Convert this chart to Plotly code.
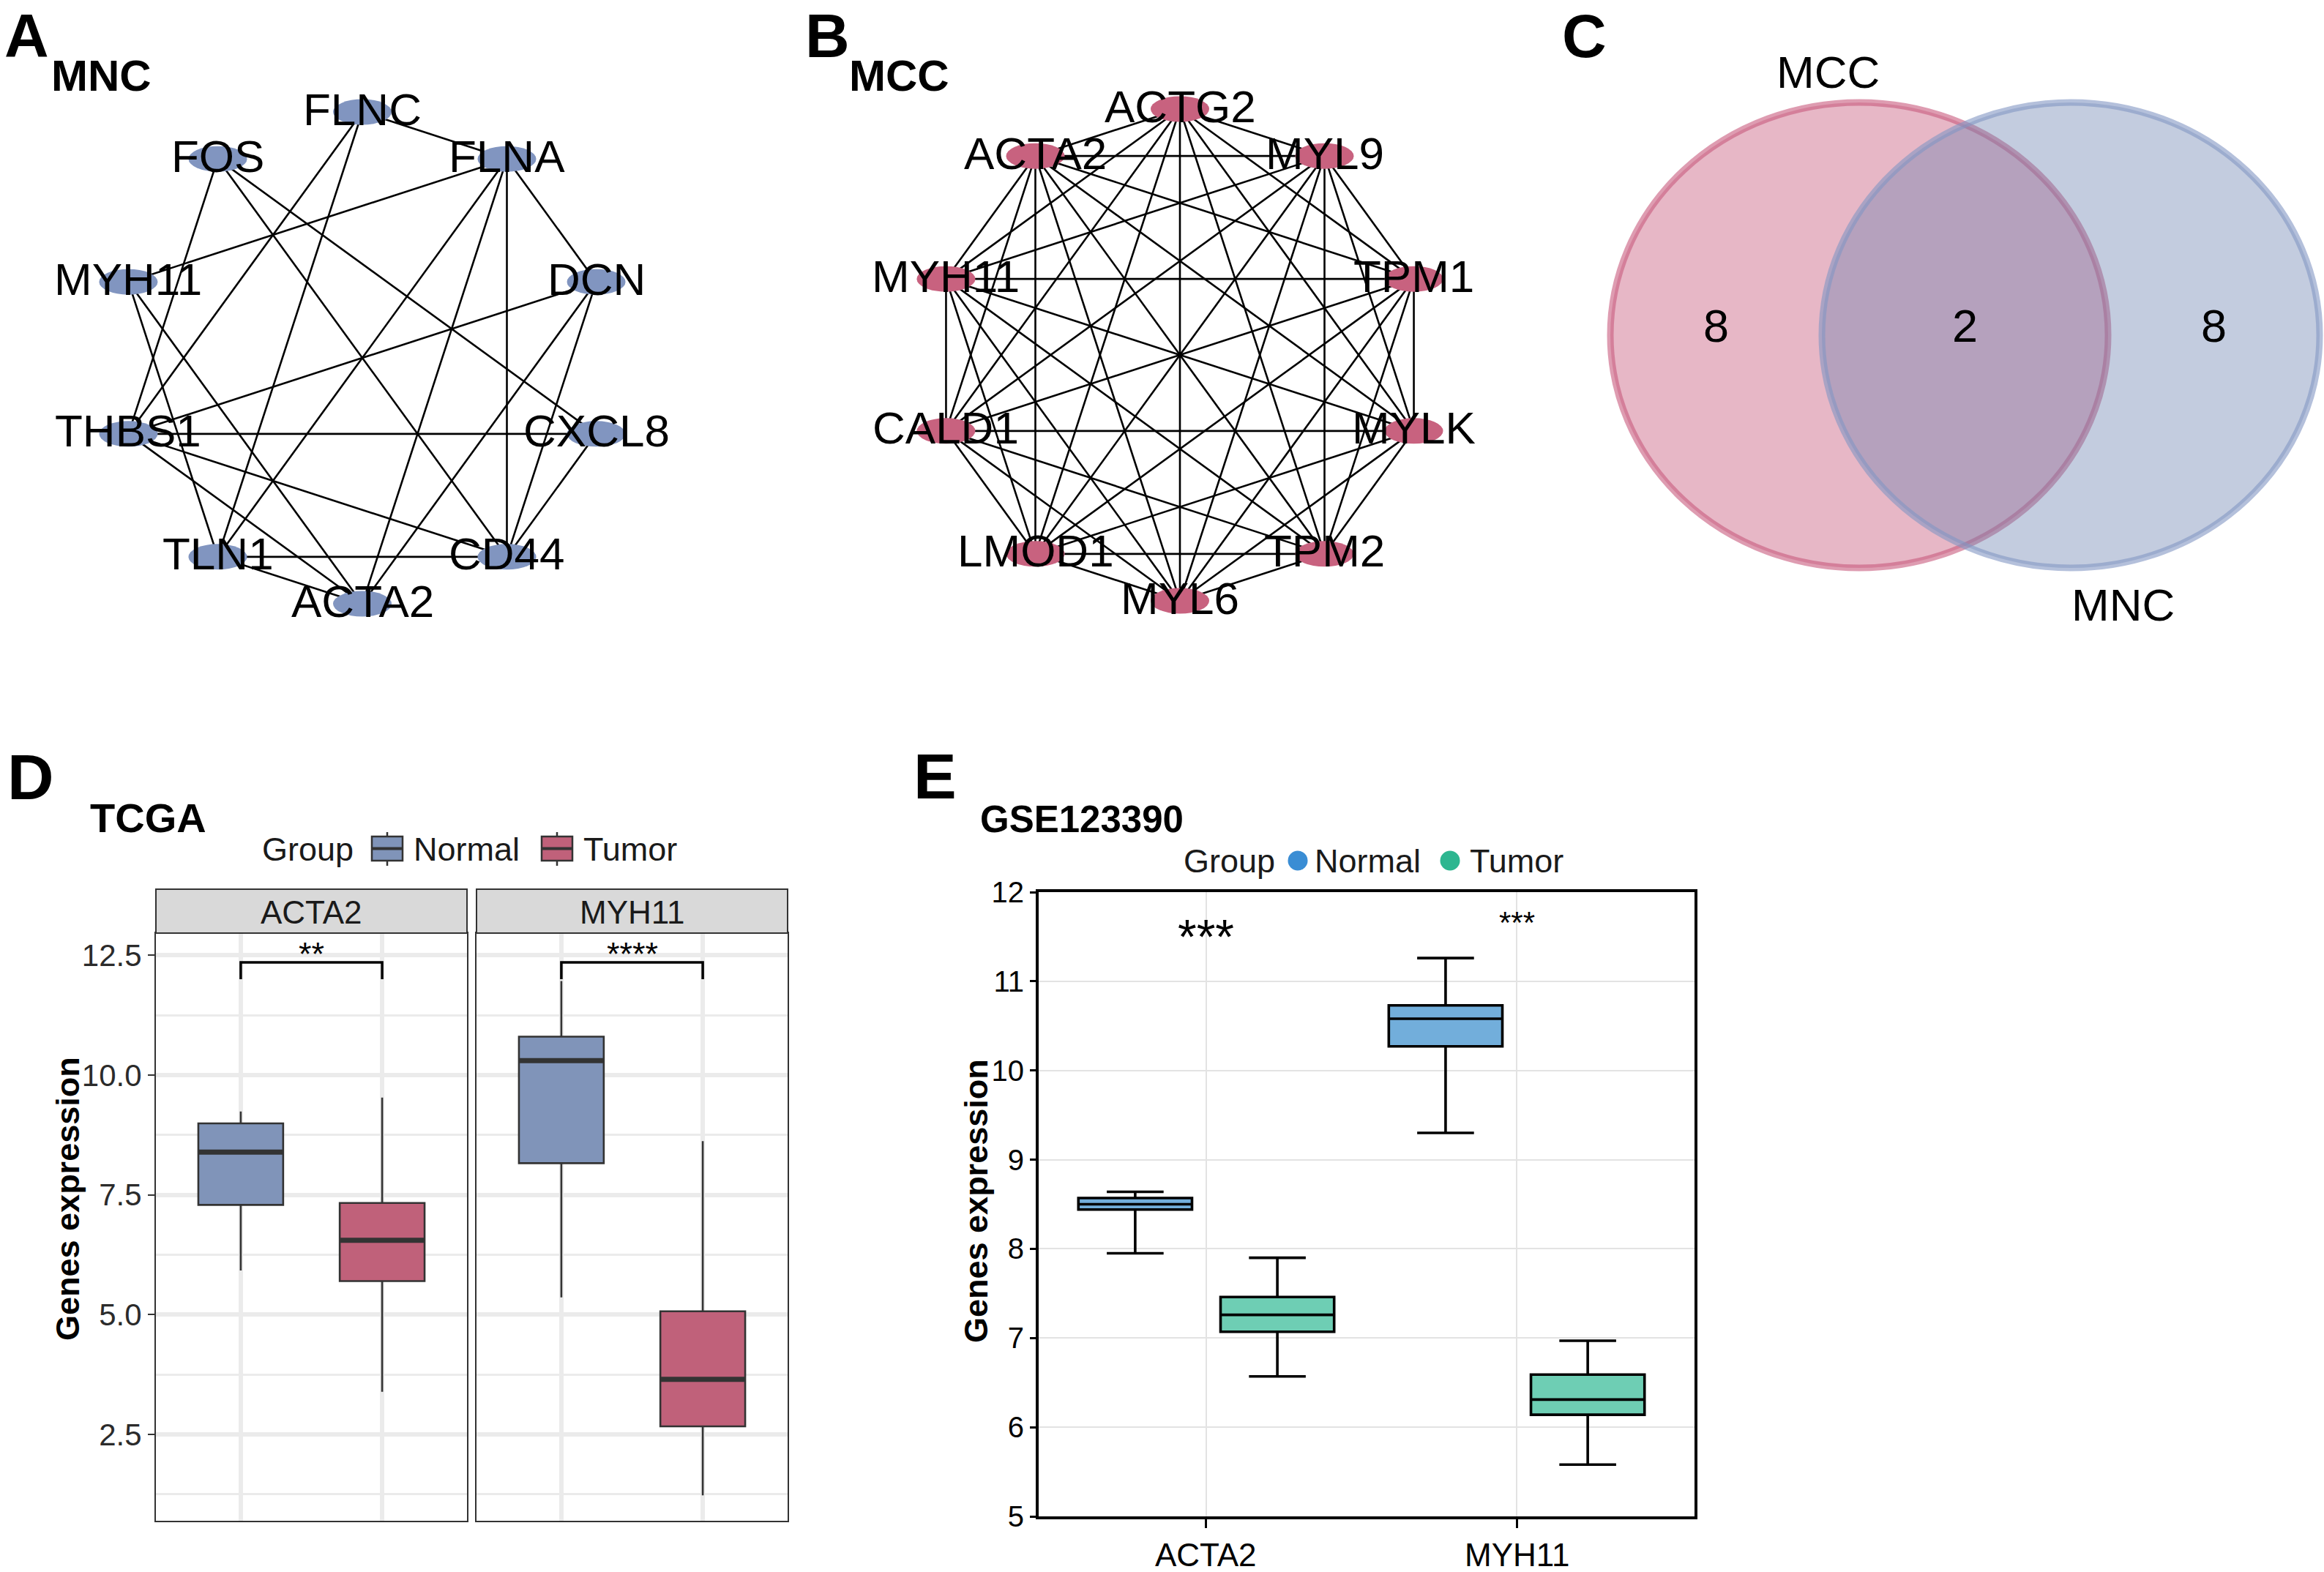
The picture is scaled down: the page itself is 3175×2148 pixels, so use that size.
import math
from itertools import combinations
import plotly.graph_objects as go

W, H = 3175, 2148
FONT = "Liberation Sans, Arial, Helvetica, sans-serif"

# ------------------------------------------------------------------ data
mnc_nodes = ["FLNC", "FLNA", "DCN", "CXCL8", "CD44", "ACTA2", "TLN1", "THBS1", "MYH11", "FOS"]
mnc_edges = [("FLNC", "FLNA"), ("FLNC", "THBS1"), ("FLNC", "TLN1"),
             ("FOS", "THBS1"), ("FOS", "CD44"), ("FOS", "CXCL8"),
             ("FLNA", "MYH11"), ("FLNA", "TLN1"), ("FLNA", "ACTA2"), ("FLNA", "CD44"), ("FLNA", "DCN"),
             ("DCN", "THBS1"), ("DCN", "CD44"), ("DCN", "ACTA2"),
             ("CXCL8", "THBS1"), ("CXCL8", "CD44"),
             ("MYH11", "TLN1"), ("MYH11", "ACTA2"),
             ("THBS1", "CD44"), ("THBS1", "ACTA2"),
             ("TLN1", "CD44"), ("TLN1", "ACTA2")]
mcc_nodes = ["ACTG2", "MYL9", "TPM1", "MYLK", "TPM2", "MYL6", "LMOD1", "CALD1", "MYH11", "ACTA2"]
mcc_edges = list(combinations(mcc_nodes, 2))   # MCC top-10 forms a clique

venn_sets = ["MCC", "MNC"]
venn_counts = [8, 2, 8]          # MCC only, shared, MNC only

genes = ["ACTA2", "MYH11"]
groups = ["Normal", "Tumor"]
# TCGA (panel D)
tcga_normal_low = [5.92, 5.36]
tcga_normal_q1 = [7.29, 8.16]
tcga_normal_med = [8.39, 10.30]
tcga_normal_q3 = [8.99, 10.80]
tcga_normal_high = [9.24, 11.96]
tcga_tumor_low = [3.39, 1.23]
tcga_tumor_q1 = [5.70, 2.67]
tcga_tumor_med = [6.55, 3.65]
tcga_tumor_q3 = [7.33, 5.07]
tcga_tumor_high = [9.53, 8.62]
tcga_signif = ["**", "****"]
tcga_bracket = [12.0, 12.35]
# GSE123390 (panel E)
gse_normal_low = [7.95, 9.30]
gse_normal_q1 = [8.44, 10.27]
gse_normal_med = [8.50, 10.58]
gse_normal_q3 = [8.57, 10.73]
gse_normal_high = [8.64, 11.26]
gse_tumor_low = [6.57, 5.58]
gse_tumor_q1 = [7.07, 6.14]
gse_tumor_med = [7.26, 6.31]
gse_tumor_q3 = [7.46, 6.59]
gse_tumor_high = [7.90, 6.97]
gse_signif = ["***", "***"]
gse_signif_y = [11.50, 11.66]
gse_signif_size = [66, 42]

# ------------------------------------------------------------------ helpers
def xd(l, r):
    return [l / W, r / W]


def yd(t, b):
    return [1 - b / H, 1 - t / H]


def px(x):
    return x / W


def py(y):
    return 1 - y / H


annotations = []
shapes = []


def text(t, x, y, size, bold=False, xanchor="left", yanchor="middle", color="black", angle=0):
    if bold:
        t = "<b>" + t + "</b>"
    annotations.append(dict(text=t, x=px(x), y=py(y), xref="paper", yref="paper",
                            xanchor=xanchor, yanchor=yanchor, showarrow=False, textangle=angle,
                            font=dict(family=FONT, size=size, color=color)))


fig = go.Figure()


# ------------------------------------------------------------------ networks (A, B)
def network(nodes, edges, ax, node_color, box, center, radius):
    xa, ya = "x" + ax, "y" + ax
    l, t, r, b = box
    cx, cy = center
    n = len(nodes)
    pos = {}
    for i, nm in enumerate(nodes):
        a = math.radians(90 - 360 * i / n)
        pos[nm] = (math.cos(a), math.sin(a))
    ex, ey = [], []
    for u, v in edges:
        ex += [pos[u][0], pos[v][0], None]
        ey += [pos[u][1], pos[v][1], None]
    fig.add_trace(go.Scatter(x=ex, y=ey, mode="lines", line=dict(color="black", width=2.6),
                             xaxis=xa, yaxis=ya, showlegend=False, hoverinfo="skip"))
    rx, ry = 40 / radius, 17.5 / radius
    for nm in nodes:
        x, y = pos[nm]
        shapes.append(dict(type="circle", xref=xa, yref=ya, x0=x - rx, x1=x + rx, y0=y - ry, y1=y + ry,
                           fillcolor=node_color, line=dict(width=0), layer="above"))
        annotations.append(dict(text=nm, x=x, y=y, xref=xa, yref=ya, showarrow=False,
                                xanchor="center", yanchor="middle", yshift=4,
                                font=dict(family=FONT, size=62, color="black")))
    fig.update_layout(**{
        "xaxis" + ax: dict(domain=xd(l, r), range=[(l - cx) / radius, (r - cx) / radius], visible=False,
                           fixedrange=True),
        "yaxis" + ax: dict(domain=yd(t, b), range=[(cy - b) / radius, (cy - t) / radius], visible=False,
                           fixedrange=True),
    })


network(mnc_nodes, mnc_edges, "", "#8195C0", (0, 0, 1050, 900), (495, 489), 336)
network(mcc_nodes, mcc_edges, "2", "#C8627F", (1080, 0, 2080, 900), (1612, 485), 336)

text("A", 4, 49, 84, bold=True)
text("MNC", 68, 103, 60, bold=True)
text("B", 1098, 49, 84, bold=True)
text("MCC", 1158, 104, 60, bold=True)
text("C", 2132, 49, 84, bold=True)

# ------------------------------------------------------------------ Venn (C)
vcx, vcy, vsx, vsy = 2684.5, 458, 340, 318
sep = 0.85
fig.update_layout(
    xaxis3=dict(domain=xd(2100, 3175), range=[(2100 - vcx) / vsx, (3175 - vcx) / vsx], visible=False),
    yaxis3=dict(domain=yd(0, 900), range=[(vcy - 900) / vsy, vcy / vsy], visible=False),
)
venn_style = [("rgba(201,96,128,0.45)", "rgba(200,90,125,0.6)"),
              ("rgba(109,131,177,0.41)", "rgba(130,150,195,0.6)")]
for k, (fc, lc) in enumerate(venn_style):
    c = (-1 if k == 0 else 1) * sep / 2
    shapes.append(dict(type="circle", xref="x3", yref="y3", x0=c - 1, x1=c + 1, y0=-1, y1=1,
                       fillcolor=fc, line=dict(color=lc, width=9), layer="above"))
for k, cnt in enumerate(venn_counts):
    annotations.append(dict(text=str(cnt), x=(k - 1) * 1.0, y=0.04, xref="x3", yref="y3", showarrow=False,
                            font=dict(family=FONT, size=63, color="black")))
annotations.append(dict(text=venn_sets[0], x=-sep / 2 - 0.125, y=1.13, xref="x3", yref="y3", showarrow=False,
                        font=dict(family=FONT, size=62, color="black")))
annotations.append(dict(text=venn_sets[1], x=sep / 2 + 0.21, y=-1.16, xref="x3", yref="y3", showarrow=False,
                        font=dict(family=FONT, size=62, color="black")))

# ------------------------------------------------------------------ TCGA (D)
d_cols = {"Normal": "#8094B9", "Tumor": "#C0617A"}
d_panels = [(213, 638), (651, 1076)]
d_top, d_bot = 1275, 2078
d_yr = [0.70, 12.96]
normal_stats = [tcga_normal_low, tcga_normal_q1, tcga_normal_med, tcga_normal_q3, tcga_normal_high]
tumor_stats = [tcga_tumor_low, tcga_tumor_q1, tcga_tumor_med, tcga_tumor_q3, tcga_tumor_high]
bw = 0.6
for i, g in enumerate(genes):
    ax = str(4 + i)
    xa, ya = "x" + ax, "y" + ax
    for j, (grp, st) in enumerate([("Normal", normal_stats), ("Tumor", tumor_stats)]):
        p = j + 1
        fig.add_trace(go.Box(x=[p], lowerfence=[st[0][i]], q1=[st[1][i]], median=[st[2][i]],
                             q3=[st[3][i]], upperfence=[st[4][i]], width=bw, whiskerwidth=0,
                             fillcolor=d_cols[grp], line=dict(color="#333333", width=2.6),
                             boxpoints=False, xaxis=xa, yaxis=ya, showlegend=False, hoverinfo="skip"))
        fig.add_trace(go.Scatter(x=[p - bw / 2, p + bw / 2], y=[st[2][i], st[2][i]], mode="lines",
                                 line=dict(color="#333333", width=7), xaxis=xa, yaxis=ya,
                                 showlegend=False, hoverinfo="skip"))
    fig.add_trace(go.Scatter(x=[1, 1, 2, 2], y=[tcga_bracket[0], tcga_bracket[1], tcga_bracket[1], tcga_bracket[0]],
                             mode="lines", line=dict(color="black", width=3.5), xaxis=xa, yaxis=ya,
                             showlegend=False, hoverinfo="skip"))
    annotations.append(dict(text=tcga_signif[i], x=1.5, y=12.52, xref=xa, yref=ya, showarrow=False,
                            xanchor="center", yanchor="middle", font=dict(family=FONT, size=45, color="black")))
    l, r = d_panels[i]
    fig.update_layout(**{
        "xaxis" + ax: dict(domain=xd(l, r), range=[0.4, 2.6], tickvals=[1, 2], showticklabels=False, ticks="",
                           showgrid=True, gridcolor="#EBEBEB", gridwidth=5.5, zeroline=False,
                           showline=True, mirror=True, linecolor="#333333", linewidth=2, anchor=ya),
        "yaxis" + ax: dict(domain=yd(d_top, d_bot), range=d_yr, tick0=0, dtick=2.5, tickformat=".1f",
                           showticklabels=(i == 0), ticks="outside" if i == 0 else "", ticklen=9,
                           tickwidth=2, tickcolor="#333333",
                           tickfont=dict(family=FONT, size=42, color="#2B2B2B"),
                           showgrid=True, gridcolor="#EBEBEB", gridwidth=5.5, zeroline=False,
                           minor=dict(dtick=1.25, tick0=0, showgrid=True, gridcolor="#EBEBEB", gridwidth=3),
                           showline=True, mirror=True, linecolor="#333333", linewidth=2, anchor=xa),
    })
    shapes.append(dict(type="rect", xref="paper", yref="paper", x0=px(l), x1=px(r), y0=py(1275), y1=py(1215),
                       fillcolor="#D9D9D9", line=dict(color="#333333", width=2), layer="above"))
    text(g, (l + r) / 2, 1246, 44, xanchor="center", color="#1A1A1A")

text("D", 8, 1061, 88, bold=True)
text("TCGA", 121, 1117, 56, bold=True)
text("Group", 356, 1160, 45, color="#1A1A1A")
for k, (grp, x0) in enumerate([("Normal", 508), ("Tumor", 740)]):
    shapes.append(dict(type="line", xref="paper", yref="paper", x0=px(x0 + 21), x1=px(x0 + 21),
                       y0=py(1137), y1=py(1183), line=dict(color="#333333", width=2.5)))
    shapes.append(dict(type="rect", xref="paper", yref="paper", x0=px(x0), x1=px(x0 + 42),
                       y0=py(1176), y1=py(1143), fillcolor=d_cols[grp], line=dict(color="#333333", width=2.5)))
    shapes.append(dict(type="line", xref="paper", yref="paper", x0=px(x0), x1=px(x0 + 42),
                       y0=py(1159.5), y1=py(1159.5), line=dict(color="#333333", width=4)))
    text(grp, x0 + 55, 1160, 45, color="#1A1A1A")
text("Genes expression", 92, 1638, 45, bold=True, xanchor="center", angle=-90)

# ------------------------------------------------------------------ GSE123390 (E)
e_fill = {"Normal": "#72AEDB", "Tumor": "#6ECEB4"}
e_dot = {"Normal": "#3A8DD4", "Tumor": "#2DB690"}
off, ebw = 0.229, 0.366
cat_pos = [1, 2]
for grp, st, sgn in [("Normal", [gse_normal_low, gse_normal_q1, gse_normal_med, gse_normal_q3, gse_normal_high], -1),
                     ("Tumor", [gse_tumor_low, gse_tumor_q1, gse_tumor_med, gse_tumor_q3, gse_tumor_high], 1)]:
    fig.add_trace(go.Box(x=[c + sgn * off for c in cat_pos], lowerfence=st[0], q1=st[1], median=st[2],
                         q3=st[3], upperfence=st[4], width=ebw, whiskerwidth=0.5,
                         fillcolor=e_fill[grp], line=dict(color="black", width=3.6),
                         boxpoints=False, xaxis="x6", yaxis="y6", showlegend=False, hoverinfo="skip"))
for i in range(len(genes)):
    annotations.append(dict(text=gse_signif[i], x=cat_pos[i], y=gse_signif_y[i], xref="x6", yref="y6",
                            showarrow=False, xanchor="center", yanchor="middle",
                            font=dict(family=FONT, size=gse_signif_size[i], color="black")))
    # category labels under the axis
    annotations.append(dict(text=genes[i], x=cat_pos[i], y=py(2124), xref="x6", yref="paper",
                            showarrow=False, xanchor="center", yanchor="middle",
                            font=dict(family=FONT, size=44, color="black")))
fig.update_layout(
    xaxis6=dict(domain=xd(1419, 2315), range=[0.46, 2.573], tickvals=cat_pos, ticktext=["", ""],
                ticks="outside", ticklen=12, tickwidth=3, tickcolor="black",
                showgrid=True, gridcolor="#E3E3E3", gridwidth=2, zeroline=False,
                showline=True, mirror=True, linecolor="black", linewidth=4, anchor="y6"),
    yaxis6=dict(domain=yd(1219, 2072), range=[5, 12], dtick=1, tick0=0,
                ticks="outside", ticklen=8, tickwidth=3, tickcolor="black",
                tickfont=dict(family=FONT, size=40, color="black"),
                showgrid=True, gridcolor="#E3E3E3", gridwidth=2, zeroline=False,
                showline=True, mirror=True, linecolor="black", linewidth=4, anchor="x6"),
)
text("E", 1246, 1060, 88, bold=True)
text("GSE123390", 1337, 1119, 51, bold=True)
text("Group", 1615, 1176, 45, color="#1A1A1A")
for grp, cxp, tx in [("Normal", 1773, 1794), ("Tumor", 1981, 2006)]:
    shapes.append(dict(type="circle", xref="paper", yref="paper", x0=px(cxp - 13.5), x1=px(cxp + 13.5),
                       y0=py(1176 + 13.5), y1=py(1176 - 13.5), fillcolor=e_dot[grp], line=dict(width=0)))
    text(grp, tx, 1176, 45, color="#1A1A1A")
text("Genes expression", 1333, 1641, 45, bold=True, xanchor="center", angle=-90)

fig.update_layout(width=W, height=H, margin=dict(l=0, r=0, t=0, b=0), paper_bgcolor="white",
                  plot_bgcolor="rgba(0,0,0,0)", showlegend=False, template="none",
                  annotations=annotations, shapes=shapes, boxmode="overlay")
fig.write_html("out.html", config={"displayModeBar": False},
               post_script="document.body.style.margin='0px';document.body.style.overflow='hidden';")
